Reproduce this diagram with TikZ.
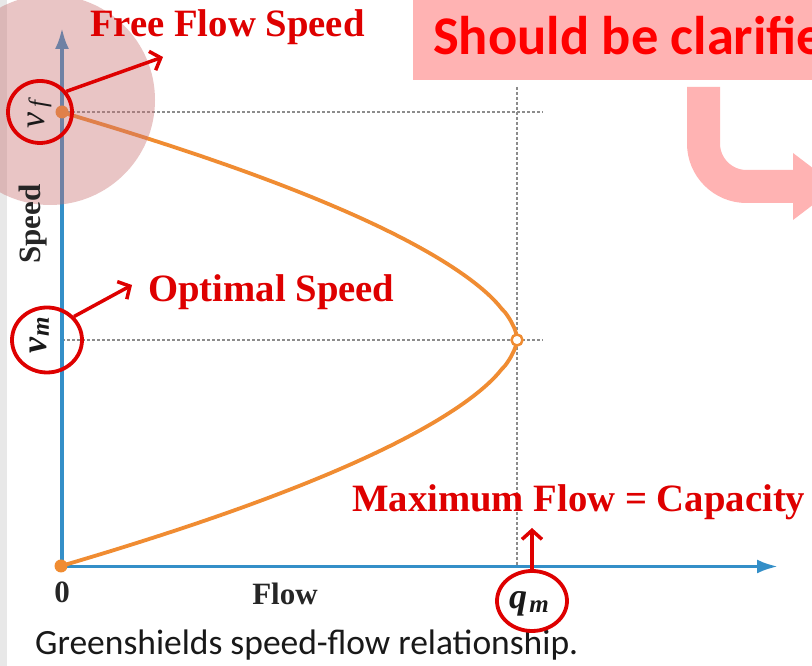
\documentclass[tikz,border=0pt]{standalone}
\usepackage{fontspec}
\setmainfont{Liberation Serif}
\newfontfamily\calib{Carlito}
\usetikzlibrary{arrows.meta,shapes.geometric}
\definecolor{axisblue}{RGB}{52,143,200}
\definecolor{curveor}{RGB}{240,140,50}
\definecolor{annred}{RGB}{222,0,0}
\definecolor{boxpink}{RGB}{255,179,179}
\definecolor{circpink}{RGB}{200,110,110}
\definecolor{stripgrey}{RGB}{232,232,232}
\definecolor{captxt}{RGB}{25,25,25}
\begin{document}
\begin{tikzpicture}[x=1pt,y=1pt,
  axisline/.style={draw=axisblue, line width=3.5pt, -{Latex[length=21pt,width=14pt]}},
  guide/.style={draw=gray!90, line width=1.8pt, dash pattern=on 3pt off 2pt},
  curve/.style={draw=curveor, line width=3.8pt},
  ring/.style={ellipse, draw=annred, line width=3.8pt, inner sep=0pt},
  annarrow/.style={draw=annred, line width=3.5pt, -{Straight Barb[length=9pt,width=20pt]}},
  redlabel/.style={text=annred, font=\fontsize{38.7}{40}\selectfont\bfseries, inner sep=0pt, anchor=base west},
  axlabel/.style={text=black!85, font=\fontsize{31}{32}\selectfont\bfseries, inner sep=0pt},
  bigsym/.style={text=black!90, font=\fontsize{36}{38}\selectfont\itshape, inner sep=0pt},
  bigsymb/.style={text=black!90, font=\fontsize{36}{38}\selectfont\bfseries\itshape, inner sep=0pt},
  subsym/.style={text=black!90, font=\fontsize{25}{26}\selectfont\itshape, inner sep=0pt},
  subsymb/.style={text=black!90, font=\fontsize{25}{26}\selectfont\bfseries\itshape, inner sep=0pt}
]
\useasboundingbox (0,0) rectangle (812,666);
\fill[white] (0,0) rectangle (812,666);
\fill[stripgrey] (0,0) rectangle (7,666);

% coordinates
\coordinate (O) at (61,100);
\coordinate (ytip) at (62,638);
\coordinate (xtip) at (778,99.5);
\coordinate (vf) at (62,554);
\coordinate (vm) at (517,326);

% guides
\draw[guide] (62,554) -- (543,554);
\draw[guide] (62,326) -- (543,326);
\draw[guide] (517,579) -- (517,100);

% axes
\draw[axisline] (62,99.5) -- (ytip);
\draw[axisline] (62,99.5) -- (xtip);

% curve
\draw[curve] plot[domain=0:1, samples=121, smooth]
  ({61+456*(1-(abs(2*\x-1)+0.0001)^1.7)}, {100+454*\x});
\fill[curveor] (O) circle (6.5);
\fill[curveor] (vf) circle (6.5);
\draw[curveor, fill=white, line width=2.5pt] (vm) circle (5.5);

% pink highlight circle
\fill[circpink, opacity=0.4] (50,566) circle (105);

% axis labels
\node[axlabel] (zero) at (62,74) {0};
\node[axlabel] (flowlbl) at (285,72) {Flow};
\node[axlabel, rotate=90] (speedlbl) at (33,442) {Speed};
\node[anchor=base west, inner sep=0pt, text=captxt, font=\calib\fontsize{35.5}{37}\selectfont] (cap) at (35,11) {Greenshields speed-flow relationship.};

% v_f
\node[bigsym, rotate=90] (vfv) at (36,545) {v};
\node[subsym, rotate=90] (vff) at (40,562) {f};
\node[ring, minimum width=64pt, minimum height=62pt] (vfc) at (40,554) {};
\coordinate (vfend) at (163,609);
\draw[annarrow] (vfc.38) -- (vfend);
\node[redlabel] (ffs) at (90,629) {Free Flow Speed};

% v_m
\node[bigsymb, rotate=90] (vmv) at (38,320) {v};
\node[subsymb, rotate=90] (vmm) at (43,339) {m};
\node[ring, minimum width=70pt, minimum height=65pt] (vmc) at (47,326) {};
\coordinate (vmend) at (132,381);
\draw[annarrow] (vmc.41) -- (vmend);
\node[redlabel] (opt) at (148,364) {Optimal Speed};

% q_m
\node[bigsymb] (qmq) at (518,62) {q};
\node[subsymb] (qmm) at (539,59) {m};
\node[ring, minimum width=70pt, minimum height=60pt] (qmc) at (532,65) {};
\coordinate (qmend) at (532,138);
\draw[annarrow] (qmc.north) -- (qmend);
\node[redlabel] (cap2) at (352,154) {Maximum Flow = Capacity};

% "Should be clarified" box and bent arrow
\begin{scope}
\clip (0,0) rectangle (812,666);
\fill[boxpink] (413,586) rectangle (830,670);
\node[anchor=base west, inner sep=0pt, text=red, font=\calib\bfseries\fontsize{54.5}{56}\selectfont] (should) at (433,611) {Should be clarified};
\draw[boxpink, line width=33pt, rounded corners=43pt] (703.5,579) -- (703.5,479.5) -- (794,479.5);
\fill[boxpink] (793,513) -- (837,479.5) -- (793,446) -- cycle;
\end{scope}
\end{tikzpicture}
\end{document}
